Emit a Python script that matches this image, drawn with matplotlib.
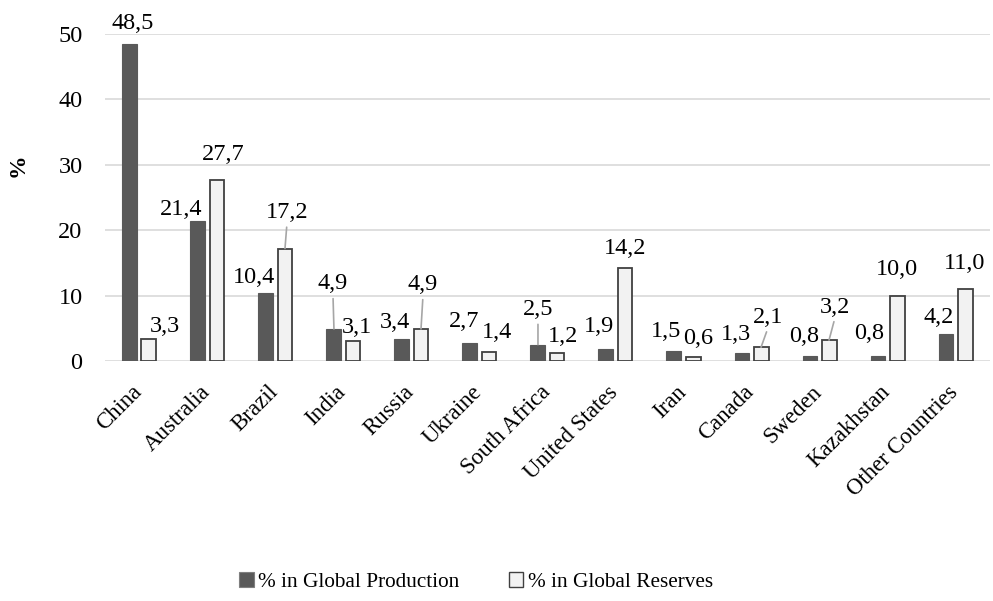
#!/usr/bin/env python

import matplotlib.pyplot as plt
import matplotlib.transforms as mtransforms
import numpy as np
from matplotlib.patches import Patch

plt.rcParams["font.family"] = ["Liberation Serif", "DejaVu Serif"]

countries = ["China", "Australia", "Brazil", "India", "Russia", "Ukraine",
             "South Africa", "United States", "Iran", "Canada", "Sweden",
             "Kazakhstan", "Other Countries"]
production = [48.5, 21.4, 10.4, 4.9, 3.4, 2.7, 2.5, 1.9, 1.5, 1.3, 0.8, 0.8, 4.2]
reserves = [3.3, 27.7, 17.2, 3.1, 4.9, 1.4, 1.2, 14.2, 0.6, 2.1, 3.2, 10.0, 11.0]
series_names = ["% in Global Production", "% in Global Reserves"]

# label offsets in pixels (dx, dy above bar top), and which ones get a leader line
prod_offsets = [(3, 20), (-17, 12), (-12, 16), (-1, 45), (-7, 16), (-6, 22),
                (0, 35), (-7, 22), (-8, 20), (-6, 18), (-6, 19), (-9, 22), (-7, 16)]
res_offsets = [(16, 13), (6, 25), (2, 36), (4, 13), (2, 44), (8, 19),
               (6, 17), (0, 20), (5, 19), (7, 30), (6, 33), (0, 26), (0, 26)]
prod_lines = {3, 6}
res_lines = {2, 4, 9, 10}

dark = "#595959"
light = "#F2F2F2"
fs = 17.5

fig = plt.figure(figsize=(9.93, 6.01), dpi=100)
ax = fig.add_axes([0.1062, 0.3993, 0.8903, 0.5441])

x = np.arange(len(countries))
w = 0.22
off = 0.14
bars1 = ax.bar(x - off, production, w, color=dark, edgecolor=dark, linewidth=0.8, zorder=3)
bars2 = ax.bar(x + off, reserves, w, color=light, edgecolor="#404040", linewidth=1.3, zorder=3)


def fmt(v):
    return f"{v:.1f}".replace(".", ",")


def label(bars, vals, offsets, lines):
    for i, (b, v) in enumerate(zip(bars, vals)):
        cx = b.get_x() + b.get_width() / 2
        dx, dy = offsets[i]
        kw = {}
        if i in lines:
            kw["arrowprops"] = dict(arrowstyle="-", color="#A6A6A6", lw=1.2,
                                    shrinkA=1, shrinkB=0, relpos=(0.5, 0.0))
        ax.annotate(fmt(v), (cx, v), xytext=(dx, dy), textcoords="offset pixels",
                    ha="center", va="center", fontsize=fs, zorder=5, **kw)


label(bars1, production, prod_offsets, prod_lines)
label(bars2, reserves, res_offsets, res_lines)

ax.set_xlim(-0.5, len(countries) - 0.5)
ax.set_ylim(0, 50)
ax.set_yticks([0, 10, 20, 30, 40, 50])
ax.yaxis.grid(True, color="#D9D9D9", lw=1.2, zorder=0)
ax.set_axisbelow(True)
for s in ax.spines.values():
    s.set_visible(False)
ax.tick_params(axis="y", length=0, pad=16.5, labelsize=fs)
ax.tick_params(axis="x", length=0, pad=4)
ax.set_xticks(x)
ax.set_xticklabels(countries, rotation=45, ha="right", rotation_mode="anchor", fontsize=16.5)
shift = mtransforms.ScaledTranslation(-8 / 100, -15 / 100, fig.dpi_scale_trans)
for t in ax.get_xticklabels():
    t.set_transform(t.get_transform() + shift)

fig.text(18 / 993, 1 - 165 / 601, "%", rotation=90, fontsize=17, fontweight="bold",
         ha="center", va="center")

handles = [Patch(facecolor=dark, edgecolor="#7F7F7F", lw=0.8),
           Patch(facecolor=light, edgecolor="#404040", lw=1.0)]
fig.legend(handles, series_names, loc="center", bbox_to_anchor=(476 / 993, 1 - 582 / 601),
           ncol=2, frameon=False, fontsize=15.3, handlelength=0.7, handleheight=0.7,
           handletextpad=0.2, columnspacing=2.3)

fig.savefig("out.png", dpi=100)
